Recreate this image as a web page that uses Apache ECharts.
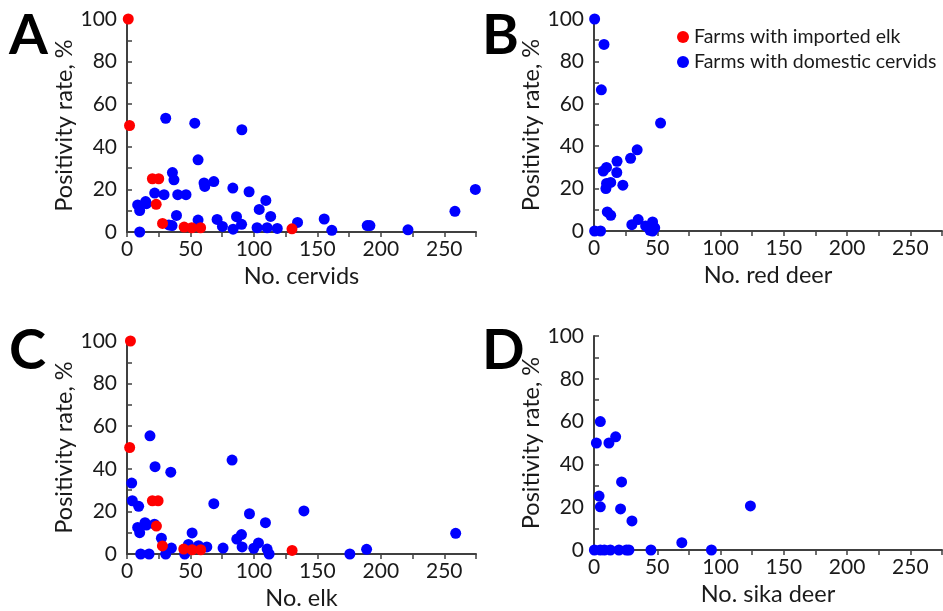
<!DOCTYPE html>
<html>
<head>
<meta charset="utf-8">
<title>Positivity rate by herd size</title>
<script src="https://cdn.jsdelivr.net/npm/echarts@6/dist/echarts.min.js"></script>
<style>
  html, body { margin: 0; padding: 0; background: #fff; }
  #chart { width: 943px; height: 611px; }
</style>
</head>
<body>
<div id="chart"></div>
<script>
// series names (legend)
var importedName = 'Farms with imported elk';
var domesticName = 'Farms with domestic cervids';

// panel titles
var panelLetters = ['A', 'B', 'C', 'D'];
var xTitles = ['No. cervids', 'No. red deer', 'No. elk', 'No. sika deer'];
var yTitle = 'Positivity rate, %';

// axis ticks
var xTicks = [0, 50, 100, 150, 200, 250];
var yTicks = [0, 20, 40, 60, 80, 100];

// A: all cervids  [no. animals, positivity %]
var cervidsImported = [
  [1, 100], [2, 50], [20, 25], [25, 25], [23, 13], [28, 4],
  [45, 2.3], [51, 2], [58, 2], [130, 1.5]
];
var cervidsDomestic = [
  [30.5, 53.4], [53.4, 51.1], [90.5, 48], [56, 33.9], [35.8, 27.9], [37, 24.5],
  [60.7, 23], [61.3, 21.4], [68.4, 23.7], [83.4, 20.6], [96.2, 18.9], [21.8, 18.3],
  [29.2, 17.5], [40, 17.5], [46.5, 17.5], [8.4, 12.7], [14.7, 14.3], [15.3, 13.3],
  [10, 10.1], [109.4, 14.8], [104.2, 10.6], [113.2, 7.3], [39, 7.8], [56, 5.6],
  [71, 5.9], [86.3, 7.2], [33, 3.3], [35.5, 3], [75.2, 2.6], [90.3, 3.6],
  [83.6, 1.3], [102.5, 2], [110.4, 2], [118.4, 1.7], [134.4, 4.5], [10, 0],
  [155.4, 6.1], [161.4, 0.8], [189.3, 3], [191.4, 3], [221.4, 1], [258.4, 9.7],
  [274.5, 20]
];

// B: red deer
var redDeerDomestic = [
  [0.5, 100], [7.9, 88], [5.8, 66.6], [52.6, 50.9], [34.1, 38.3], [28.9, 34.3],
  [18.2, 32.9], [18, 27.6], [9.9, 30], [7.3, 28.3], [22.8, 21.6], [13.2, 22.9],
  [9.9, 22.4], [9.4, 20], [10.5, 9], [13.2, 7.4], [29.9, 3], [34.9, 5.4],
  [40.8, 2.4], [46.3, 4.3], [44.2, 0.3], [46.3, 0], [0.5, 0], [5.2, 0], [48, 1.5]
];

// C: elk
var elkImported = [
  [2.7, 100], [2.1, 50], [20, 25], [24.5, 25], [23.2, 13.1], [27.9, 3.8],
  [44.7, 2.3], [51.3, 2], [58.1, 2], [130.1, 1.7]
];
var elkDomestic = [
  [18.1, 55.5], [3.7, 33.3], [22.1, 41], [34.5, 38.4], [82.8, 44.1], [4.2, 25],
  [9.2, 22.4], [68.4, 23.6], [96.5, 18.9], [109.1, 14.7], [139.4, 20.2], [8.4, 12.5],
  [10, 10], [14.2, 14.7], [15.3, 13.6], [21.6, 14], [27.1, 7.4], [51.3, 9.9],
  [35, 2.8], [30.5, 0], [10.8, 0], [17.4, 0], [45.5, 0], [48.4, 4.5],
  [56.3, 3.9], [62.9, 3.3], [75.7, 2.8], [86.5, 7], [90.2, 9.1], [90.7, 3.3],
  [99.9, 2.7], [103.6, 5.2], [110.4, 2.3], [112, 0], [175.6, 0], [188.8, 2.2],
  [259, 9.7]
];

// D: sika deer
var sikaDomestic = [
  [5, 60], [1.9, 50], [11.8, 50], [17.1, 52.9], [21.8, 31.8], [4, 25.2],
  [5, 20.2], [21, 19.2], [30, 13.6], [69.4, 3.4], [0.3, 0], [5, 0],
  [8.2, 0], [12.9, 0], [19.7, 0], [25.6, 0], [27.6, 0], [45, 0],
  [123.6, 20.6], [92.8, 0]
];

var panelData = [
  { imported: cervidsImported, domestic: cervidsDomestic },
  { imported: [], domestic: redDeerDomestic },
  { imported: elkImported, domestic: elkDomestic },
  { imported: [], domestic: sikaDomestic }
];

var fontName = 'Lato, "Open Sans", sans-serif';
var axisColor = '#404040';
var textColor = '#1a1a1a';

// plot rectangles in px
var grids = [
  { left: 127, top: 19, width: 349, height: 213 },
  { left: 594, top: 19, width: 348, height: 212 },
  { left: 127, top: 341, width: 349, height: 213 },
  { left: 594, top: 336, width: 348, height: 214 }
];

var chart = echarts.init(document.getElementById('chart'));

var option = {
  animation: false,
  backgroundColor: '#fff',
  textStyle: { fontFamily: fontName },
  legend: {
    data: [importedName, domesticName],
    orient: 'vertical',
    left: 672,
    top: 21,
    icon: 'circle',
    itemWidth: 12,
    itemHeight: 12,
    itemGap: 3,
    selectedMode: false,
    textStyle: { fontFamily: fontName, fontSize: 19.5, color: textColor, lineHeight: 22 }
  },
  grid: [],
  xAxis: [],
  yAxis: [],
  series: [],
  graphic: []
};

grids.forEach(function (g, i) {
  option.grid.push({
    left: g.left, top: g.top, width: g.width, height: g.height,
    containLabel: false, outerBoundsMode: 'none'
  });
  option.xAxis.push({
    gridIndex: i,
    type: 'value',
    min: 0,
    max: 275,
    interval: 25,
    name: xTitles[i],
    nameLocation: 'middle',
    nameGap: 32,
    nameTextStyle: { fontFamily: fontName, fontSize: 23.5, color: textColor },
    axisLine: { show: true, onZero: false, lineStyle: { color: axisColor, width: 2 } },
    axisTick: { show: true, inside: false, length: 5, lineStyle: { color: axisColor, width: 1.5 } },
    axisLabel: {
      margin: 7,
      fontFamily: fontName, fontSize: 21, color: textColor,
      formatter: function (v) { return xTicks.indexOf(v) >= 0 ? String(v) : ''; }
    },
    splitLine: { show: false }
  });
  option.yAxis.push({
    gridIndex: i,
    type: 'value',
    min: 0,
    max: 100,
    interval: 10,
    name: yTitle,
    nameLocation: 'middle',
    nameGap: 45,
    nameTextStyle: { fontFamily: fontName, fontSize: 23.5, color: textColor },
    axisLine: { show: true, onZero: false, lineStyle: { color: axisColor, width: 2 } },
    axisTick: { show: true, inside: true, length: 5, lineStyle: { color: axisColor, width: 1.5 } },
    axisLabel: {
      margin: 10,
      fontFamily: fontName, fontSize: 21, color: textColor,
      formatter: function (v) { return yTicks.indexOf(v) >= 0 ? String(v) : ''; }
    },
    splitLine: { show: false }
  });
  // blue first so red sits on top, as in the figure
  option.series.push({
    name: domesticName,
    type: 'scatter',
    xAxisIndex: i,
    yAxisIndex: i,
    symbolSize: 11,
    itemStyle: { color: '#0000ff', opacity: 1 },
    data: panelData[i].domestic
  });
  option.series.push({
    name: importedName,
    type: 'scatter',
    xAxisIndex: i,
    yAxisIndex: i,
    symbolSize: 11,
    itemStyle: { color: '#ff0000', opacity: 1 },
    data: panelData[i].imported
  });
  // panel letter
  option.graphic.push({
    type: 'text',
    left: i % 2 === 0 ? 9 : 482,
    top: i < 2 ? 8 : 323,
    style: {
      text: panelLetters[i],
      font: 'bold 56px ' + fontName,
      fill: '#000'
    }
  });
});

chart.setOption(option);
</script>
</body>
</html>
